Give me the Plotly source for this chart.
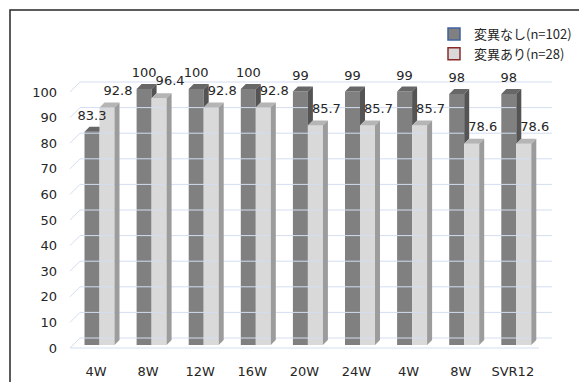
import plotly.graph_objects as go

# ---- data ----
categories = ["4W", "8W", "12W", "16W", "20W", "24W", "4W", "8W", "SVR12"]
no_variant = [83.3, 100, 100, 100, 99, 99, 99, 98, 98]
with_variant = [92.8, 96.4, 92.8, 92.8, 85.7, 85.7, 85.7, 78.6, 78.6]
y_ticks = [0, 10, 20, 30, 40, 50, 60, 70, 80, 90, 100]
series_names = ["変異なし(n=102)", "変異あり(n=28)"]

# ---- layout constants (pixels) ----
W, H = 579, 382
ML, MR, MT, MB = 60, 10, 60, 27
PX_X = 52.1      # px per category
PX_Y = 2.56      # px per value unit
X0_PX = 96       # pixel x of category 0
Y0_PX = 348      # pixel y of value 0

xr = [(ML - X0_PX) / PX_X, (W - MR - X0_PX) / PX_X]
yr = [-(H - MB - Y0_PX) / PX_Y, (Y0_PX - MT) / PX_Y]

def ux(px):
    return px / PX_X

def uy(px):
    return px / PX_Y

BW = ux(15)                 # bar front width
OFF_D = ux(-11.5)           # dark bar left edge relative to category
OFF_L = OFF_D + BW          # light bar left edge
DX, DY = ux(5), uy(5)       # bar depth
BASE = uy(3)                # bars sit slightly behind the front plane
WALL_DX, WALL_DY = ux(10), uy(10)
X_FRONT_L = ux(70 - X0_PX)
X_FRONT_R = ux(539 - X0_PX)
X_BACK_R = ux(552 - X0_PX)

DARK = dict(front="#808080", top="#676767", side="#545454", edge="#3f63a0")
LIGHT = dict(front="#d9d9d9", top="#b5b5b5", side="#9c9c9c", edge="#8a2b2b")

fig = go.Figure()

# ---- gridlines (3D wall) ----
gx, gy = [], []
for t in y_ticks:
    gx += [X_FRONT_L, X_FRONT_L + WALL_DX, X_BACK_R, None]
    gy += [t, t + WALL_DY, t + WALL_DY, None]
gx += [X_FRONT_L, X_FRONT_R, None]
gy += [0, 0, None]
fig.add_trace(go.Scatter(x=gx, y=gy, mode="lines", line=dict(color="#d3def1", width=1),
                         hoverinfo="skip", showlegend=False))

idx = list(range(len(categories)))

# ---- front faces ----
fig.add_trace(go.Bar(x=idx, y=no_variant, base=[BASE] * len(idx), offset=OFF_D, width=BW,
                     marker=dict(color=DARK["front"], line=dict(width=0)),
                     showlegend=False, hoverinfo="skip"))
fig.add_trace(go.Bar(x=idx, y=with_variant, base=[BASE] * len(idx), offset=OFF_L, width=BW,
                     marker=dict(color=LIGHT["front"], line=dict(width=0)),
                     showlegend=False, hoverinfo="skip"))

# ---- dark bars: top and visible side (clipped by the light bar in front) ----
tx, ty, sx, sy = [], [], [], []
for i, (d, l) in enumerate(zip(no_variant, with_variant)):
    xl = i + OFF_D
    xrr = xl + BW
    top = d + BASE
    ltop = l + BASE
    if d >= l:
        tx += [xl, xl + DX, xrr + DX, xrr, xl, None]
        ty += [top, top + DY, top + DY, top, top, None]
        sx += [xrr, xrr + DX, xrr + DX, xrr, xrr, None]
        sy += [ltop, ltop + DY, top + DY, top, ltop, None]
    else:
        tx += [xl, xl + DX, xrr, xrr, xl, None]
        ty += [top, top + DY, top + DY, top, top, None]
fig.add_trace(go.Scatter(x=tx, y=ty, mode="lines", fill="toself", fillcolor=DARK["top"],
                         line=dict(width=0, color=DARK["top"]), hoverinfo="skip", showlegend=False))
fig.add_trace(go.Scatter(x=sx, y=sy, mode="lines", fill="toself", fillcolor=DARK["side"],
                         line=dict(width=0, color=DARK["side"]), hoverinfo="skip", showlegend=False))

# ---- light bars: top and side ----
tx, ty, sx, sy = [], [], [], []
for i, l in enumerate(with_variant):
    xl = i + OFF_L
    xrr = xl + BW
    top = l + BASE
    tx += [xl, xl + DX, xrr + DX, xrr, xl, None]
    ty += [top, top + DY, top + DY, top, top, None]
    sx += [xrr, xrr + DX, xrr + DX, xrr, xrr, None]
    sy += [BASE, BASE + DY, top + DY, top, BASE, None]
fig.add_trace(go.Scatter(x=tx, y=ty, mode="lines", fill="toself", fillcolor=LIGHT["top"],
                         line=dict(width=0, color=LIGHT["top"]), hoverinfo="skip", showlegend=False))
fig.add_trace(go.Scatter(x=sx, y=sy, mode="lines", fill="toself", fillcolor=LIGHT["side"],
                         line=dict(width=0, color=LIGHT["side"]), hoverinfo="skip", showlegend=False))

# ---- data labels ----
lab_font = dict(family="DejaVu Sans", size=13, color="#262626")
fig.add_trace(go.Scatter(x=[i + OFF_D + BW / 2 for i in idx],
                         y=[v + BASE + uy(15) for v in no_variant],
                         mode="text", text=[f"{v:g}" for v in no_variant],
                         textposition="middle center", textfont=lab_font,
                         hoverinfo="skip", showlegend=False))
fig.add_trace(go.Scatter(x=[i + OFF_L + BW / 2 + ux(11) for i in idx],
                         y=[v + BASE + uy(16) for v in with_variant],
                         mode="text", text=[f"{v:g}" for v in with_variant],
                         textposition="middle center", textfont=lab_font,
                         hoverinfo="skip", showlegend=False))

# ---- legend entries ----
fig.add_trace(go.Bar(x=[None], y=[None], name=series_names[0],
                     marker=dict(color=DARK["front"], line=dict(color=DARK["edge"], width=1.5))))
fig.add_trace(go.Bar(x=[None], y=[None], name=series_names[1],
                     marker=dict(color=LIGHT["front"], line=dict(color=LIGHT["edge"], width=1.5))))

# ---- chart frame (top and left edges) ----
pw, ph = W - ML - MR, H - MT - MB
def px2paper(px, py):
    return (px - ML) / pw, 1 - (py - MT) / ph
x_a, y_a = px2paper(10, H + 5)
x_b, y_b = px2paper(10, 10)
x_c, y_c = px2paper(W + 5, 10)
fig.add_shape(type="path", xref="paper", yref="paper",
              path=f"M{x_a},{y_a} L{x_b},{y_b} L{x_c},{y_c}",
              line=dict(color="#262626", width=1.5))

tick_font = dict(family="DejaVu Sans", size=13, color="#262626")
fig.update_layout(
    width=W, height=H,
    margin=dict(l=ML, r=MR, t=MT, b=MB, pad=0, autoexpand=False),
    paper_bgcolor="white", plot_bgcolor="white",
    barmode="overlay",
    xaxis=dict(range=xr, tickvals=idx, ticktext=categories, showgrid=False, zeroline=False,
               showline=False, ticks="", ticklabelstandoff=7, automargin=False,
               tickfont=tick_font, fixedrange=True),
    yaxis=dict(range=yr, tickvals=y_ticks, showgrid=False, zeroline=False, showline=False,
               ticks="", ticklabelstandoff=2, automargin=False,
               tickfont=tick_font, fixedrange=True),
    legend=dict(xref="container", yref="container", x=434 / W, y=1 - 19 / H,
                xanchor="left", yanchor="top", bgcolor="rgba(0,0,0,0)",
                font=dict(family="Noto Sans CJK JP", size=13, color="#262626"),
                tracegroupgap=0, itemwidth=30),
)

fig.write_html("out.html")
